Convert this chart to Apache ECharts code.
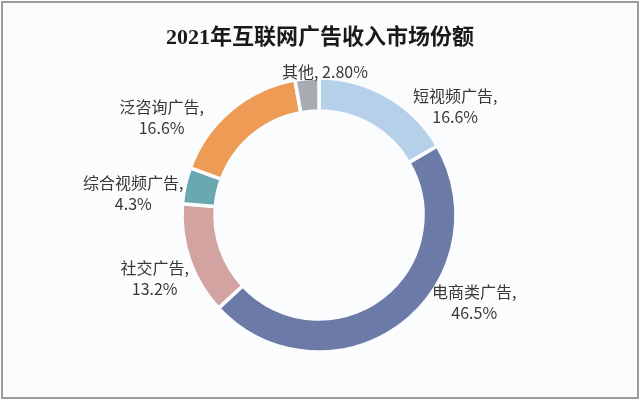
<!DOCTYPE html>
<html>
<head>
<meta charset="utf-8">
<script src="https://cdn.jsdelivr.net/npm/echarts@6/dist/echarts.min.js"></script>
<style>
    html, body { margin: 0; padding: 0; background: #ffffff; }
    #frame {
        position: absolute; left: 1px; top: 1px; width: 634px; height: 394px;
        border: 2px solid #9a9a9a; background: #fbfcfe;
    }
    #main { position: absolute; left: 0; top: 0; width: 640px; height: 402px; }
</style>
</head>
<body>
<div id="frame"></div>
<div id="main"></div>
<script>
const categories = ["短视频广告", "电商类广告", "社交广告", "综合视频广告", "泛咨询广告", "其他"];
const shares = [16.6, 46.5, 13.2, 4.3, 16.6, 2.8];
const shareLabels = ["16.6%", "46.5%", "13.2%", "4.3%", "16.6%", "2.80%"];
const colors = ["#b5d0e8", "#6b7aa6", "#d3a3a2", "#6aa8b1", "#ee9c55", "#a8abaf"];

// where the labels sit: direction (deg clockwise from top) and distance from centre
const labelDir = [51.5, 119.3, 249, 276.7, 301.7, 2.4];
const labelDist = [174, 178, 176, 187, 185, 143];

const center = [319, 215];

const chart = echarts.init(document.getElementById("main"));

chart.setOption({
    backgroundColor: "transparent",
    title: {
        text: "2021年互联网广告收入市场份额",
        left: "center",
        top: 22,
        textStyle: {
            fontFamily: '"Liberation Serif", "Noto Sans CJK SC", serif',
            fontSize: 22,
            fontWeight: "bold",
            color: "#1a1a1a"
        }
    },
    series: [{
        type: "pie",
        center: center,
        radius: [104, 137],
        startAngle: 90,
        clockwise: true,
        silent: true,
        itemStyle: { borderColor: "#fbfcfe", borderWidth: 3.5 },
        label: {
            show: true,
            position: "outside",
            fontFamily: '"Noto Sans CJK SC", sans-serif',
            fontSize: 16,
            lineHeight: 21,
            color: "#383838",
            formatter: (p) => p.dataIndex === 5
                ? p.name + ", " + shareLabels[p.dataIndex]
                : p.name + ",\n" + shareLabels[p.dataIndex]
        },
        labelLine: { show: false },
        labelLayout: (p) => {
            const a = labelDir[p.dataIndex] * Math.PI / 180;
            const d = labelDist[p.dataIndex];
            return {
                x: center[0] + d * Math.sin(a),
                y: center[1] - d * Math.cos(a),
                align: "center",
                verticalAlign: "middle"
            };
        },
        data: categories.map((name, i) => ({
            name: name,
            value: shares[i],
            itemStyle: { color: colors[i] }
        }))
    }]
});
</script>
</body>
</html>
